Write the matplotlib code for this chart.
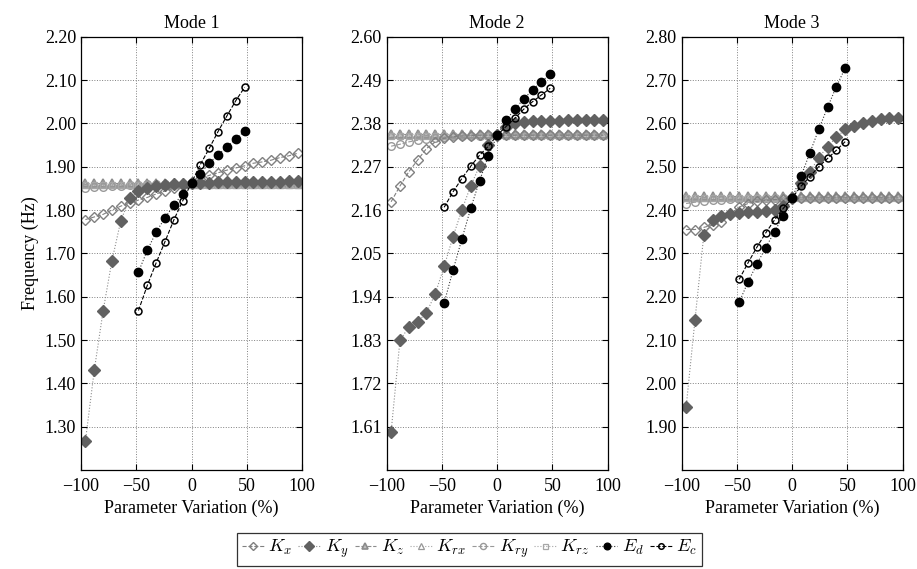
import numpy as np
import matplotlib
matplotlib.use('Agg')
import matplotlib.pyplot as plt

plt.rcParams['font.family'] = ['Liberation Serif', 'DejaVu Serif']
plt.rcParams['mathtext.fontset'] = 'cm'
plt.rcParams['font.size'] = 12

# parameter variation (%)
xk = [-96, -88, -80, -72, -64, -56, -48, -40, -32, -24, -16, -8, 0,
      8, 16, 24, 32, 40, 48, 56, 64, 72, 80, 88, 96]
xe = [-48, -40, -32, -24, -16, -8, 0, 8, 16, 24, 32, 40, 48]

# Mode 1
Kx1 = [1.778, 1.784, 1.790, 1.800, 1.809, 1.816, 1.823, 1.829, 1.837, 1.844, 1.850, 1.857, 1.862,
       1.872, 1.880, 1.886, 1.892, 1.897, 1.902, 1.908, 1.911, 1.915, 1.921, 1.925, 1.931]
Ky1 = [1.267, 1.430, 1.567, 1.683, 1.775, 1.827, 1.844, 1.851, 1.855, 1.858, 1.860, 1.861, 1.862,
       1.863, 1.863, 1.864, 1.864, 1.864, 1.865, 1.865, 1.865, 1.865, 1.865, 1.866, 1.866]
Kz1 = [1.862] * 25
Krx1 = [1.860] * 25
Kry1 = [1.851, 1.853, 1.854, 1.855, 1.856, 1.857, 1.858, 1.859, 1.859, 1.860, 1.860, 1.861, 1.861,
        1.861, 1.861, 1.861, 1.861, 1.861, 1.861, 1.861, 1.861, 1.861, 1.861, 1.861, 1.861]
Krz1 = [1.858] * 25
Ed1 = [1.657, 1.707, 1.749, 1.782, 1.811, 1.838, 1.863, 1.884, 1.908, 1.927, 1.946, 1.964, 1.982]
Ec1 = [1.568, 1.626, 1.678, 1.727, 1.777, 1.821, 1.863, 1.905, 1.942, 1.981, 2.017, 2.052, 2.083]

# Mode 2
Kx2 = [2.181, 2.221, 2.257, 2.287, 2.316, 2.333, 2.342, 2.346, 2.348, 2.349, 2.350, 2.350, 2.350,
       2.350, 2.350, 2.350, 2.350, 2.350, 2.350, 2.350, 2.350, 2.350, 2.350, 2.350, 2.350]
Ky2 = [1.597, 1.829, 1.863, 1.876, 1.899, 1.948, 2.017, 2.092, 2.160, 2.221, 2.272, 2.325, 2.350,
       2.371, 2.380, 2.383, 2.385, 2.386, 2.387, 2.387, 2.388, 2.388, 2.388, 2.388, 2.388]
Kz2 = [2.353] * 25
Krx2 = [2.352] * 25
Kry2 = [2.322, 2.327, 2.333, 2.337, 2.340, 2.343, 2.345, 2.347, 2.348, 2.349, 2.349, 2.350, 2.350,
        2.350, 2.350, 2.350, 2.350, 2.350, 2.350, 2.350, 2.350, 2.350, 2.350, 2.350, 2.350]
Krz2 = [2.349] * 25
Ed2 = [1.924, 2.007, 2.086, 2.164, 2.234, 2.297, 2.350, 2.388, 2.416, 2.442, 2.465, 2.486, 2.505]
Ec2 = [2.167, 2.206, 2.240, 2.271, 2.299, 2.322, 2.350, 2.372, 2.393, 2.416, 2.435, 2.452, 2.469]

# Mode 3
Kx3 = [2.355, 2.355, 2.360, 2.365, 2.373, 2.390, 2.407, 2.415, 2.420, 2.422, 2.424, 2.426, 2.428,
       2.428, 2.428, 2.428, 2.428, 2.428, 2.428, 2.428, 2.428, 2.428, 2.428, 2.428, 2.428]
Ky3 = [1.945, 2.146, 2.342, 2.378, 2.386, 2.390, 2.394, 2.395, 2.396, 2.397, 2.401, 2.410, 2.428,
       2.463, 2.488, 2.521, 2.546, 2.568, 2.586, 2.594, 2.601, 2.606, 2.609, 2.612, 2.613]
Kz3 = [2.432] * 25
Krx3 = [2.430] * 25
Kry3 = [2.415, 2.418, 2.420, 2.422, 2.424, 2.425, 2.426, 2.427, 2.428, 2.428, 2.428, 2.428, 2.428,
        2.428, 2.428, 2.428, 2.428, 2.428, 2.428, 2.428, 2.428, 2.428, 2.428, 2.428, 2.428]
Krz3 = [2.428] * 25
Ed3 = [2.187, 2.234, 2.275, 2.313, 2.350, 2.387, 2.428, 2.478, 2.532, 2.586, 2.637, 2.685, 2.728]
Ec3 = [2.240, 2.278, 2.314, 2.347, 2.377, 2.404, 2.428, 2.455, 2.477, 2.500, 2.519, 2.538, 2.558]

titles = ['Mode 1', 'Mode 2', 'Mode 3']
ylims = [(1.20, 2.20), (1.50, 2.60), (1.80, 2.80)]
yticks = [[1.30, 1.40, 1.50, 1.60, 1.70, 1.80, 1.90, 2.00, 2.10, 2.20],
          [1.61, 1.72, 1.83, 1.94, 2.05, 2.16, 2.27, 2.38, 2.49, 2.60],
          [1.90, 2.00, 2.10, 2.20, 2.30, 2.40, 2.50, 2.60, 2.70, 2.80]]
modes = [(Kx1, Ky1, Kz1, Krx1, Kry1, Krz1, Ed1, Ec1),
         (Kx2, Ky2, Kz2, Krx2, Kry2, Krz2, Ed2, Ec2),
         (Kx3, Ky3, Kz3, Krx3, Kry3, Krz3, Ed3, Ec3)]
lefts = [81, 386.7, 681.7]

fig = plt.figure(figsize=(9.17, 5.69), dpi=100)
W, H = 917., 569.
axes = []
for i in range(3):
    ax = fig.add_axes([lefts[i]/W, (H-470)/H, 221/W, 433.3/H])
    axes.append(ax)
    Kx, Ky, Kz, Krx, Kry, Krz, Ed, Ec = modes[i]
    lw = 0.8
    ax.plot(xk, Kz, '--', color='0.55', lw=lw, marker='^', ms=5.5, mfc='0.75', mec='0.55', mew=1.2, label='$K_z$')
    ax.plot(xk, Krx, ':', color='0.65', lw=lw, marker='^', ms=5.5, mfc='none', mec='0.6', mew=0.9, label='$K_{rx}$')
    ax.plot(xk, Kry, '--', color='0.6', lw=lw, marker='o', ms=5.5, mfc='none', mec='0.6', mew=1.0, label='$K_{ry}$')
    ax.plot(xk, Krz, ':', color='0.65', lw=lw, marker='s', ms=4.5, mfc='none', mec='0.65', mew=0.9, label='$K_{rz}$')
    ax.plot(xk, Kx, '--', color='0.5', lw=lw, marker='D', ms=4.8, mfc='none', mec='0.5', mew=1.0, label='$K_x$')
    ax.plot(xk, Ky, ':', color='0.55', lw=lw, marker='D', ms=6.5, mfc='0.38', mec='0.38', label='$K_y$')
    ax.plot(xe, Ed, ':', color='0.2', lw=lw, marker='o', ms=6, mfc='black', mec='black', label='$E_d$')
    ax.plot(xe, Ec, '--', color='black', lw=lw, marker='o', ms=5, mfc='none', mec='black', mew=1.1, label='$E_c$')
    ax.set_xlim(-100, 100)
    ax.set_ylim(*ylims[i])
    ax.set_xticks([-100, -50, 0, 50, 100])
    ax.set_yticks(yticks[i])
    ax.set_yticklabels(['%.2f' % v for v in yticks[i]])
    ax.grid(True, linestyle=':', color='0.5', linewidth=0.7)
    ax.tick_params(direction='in', top=True, right=True, length=4, labelsize=13)
    ax.tick_params(axis='x', pad=6)
    for s in ax.spines.values():
        s.set_linewidth(0.9)
    ax.set_title(titles[i], fontsize=13, pad=6)
    ax.set_xlabel('Parameter Variation (%)', fontsize=13, labelpad=3)
axes[0].set_ylabel('Frequency (Hz)', fontsize=13)

h, l = axes[0].get_legend_handles_labels()
order = ['$K_x$', '$K_y$', '$K_z$', '$K_{rx}$', '$K_{ry}$', '$K_{rz}$', '$E_d$', '$E_c$']
hh = [h[l.index(o)] for o in order]
leg = fig.legend(hh, order, loc='center', bbox_to_anchor=(0.512, 0.035), ncol=8,
                 frameon=True, fancybox=False, edgecolor='black', fontsize=13,
                 handlelength=1.2, handletextpad=0.25, columnspacing=0.35, borderpad=0.3,
                 markerscale=0.8, borderaxespad=0)
leg.get_frame().set_linewidth(0.9)

plt.savefig('out.png', dpi=100)
